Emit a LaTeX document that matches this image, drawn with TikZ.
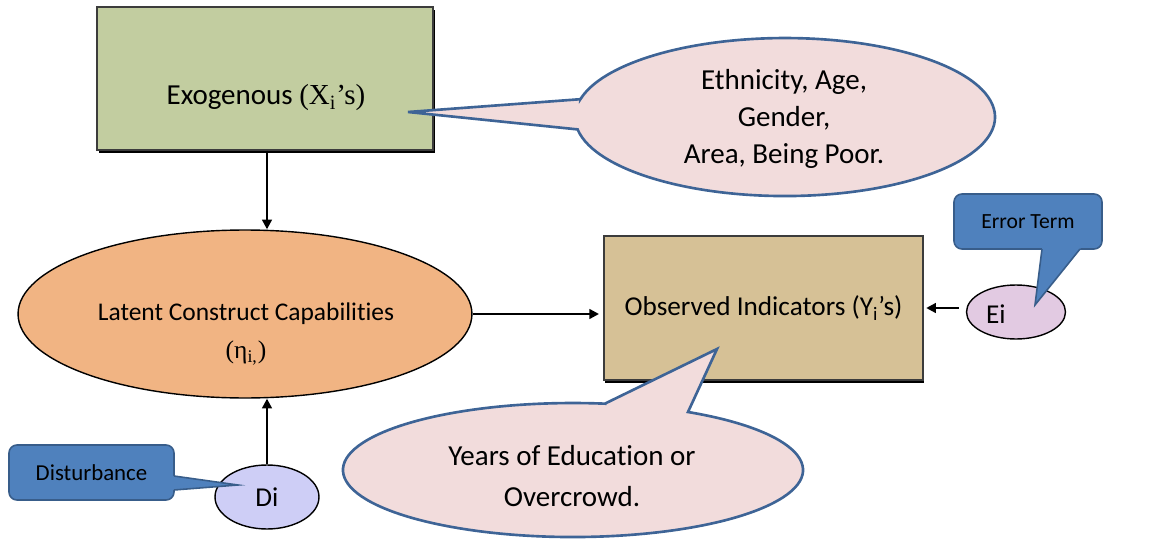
\documentclass[tikz,border=0pt]{standalone}
\usepackage{fontspec}
\setmainfont{Carlito}[Ligatures=NoCommon]
\newfontfamily\serifrm{Liberation Serif}
\usetikzlibrary{arrows.meta,shapes.geometric,shadows}
\definecolor{exofill}{RGB}{194,205,160}
\definecolor{latfill}{RGB}{241,180,131}
\definecolor{obsfill}{RGB}{214,193,150}
\definecolor{pinkfill}{RGB}{242,220,220}
\definecolor{pinkline}{RGB}{62,100,150}
\definecolor{bluefill}{RGB}{79,129,189}
\definecolor{blueline}{RGB}{56,93,138}
\definecolor{difill}{RGB}{206,206,246}
\definecolor{eifill}{RGB}{226,202,226}
\definecolor{boxline}{RGB}{60,60,60}
\begin{document}
\begin{tikzpicture}[x=0.02cm,y=-0.02cm,
  sqbox/.style={rectangle, draw=boxline, line width=0.7pt, inner sep=0pt},
  oval/.style={ellipse, draw=black, line width=0.8pt, inner sep=0pt},
  arr/.style={line width=1.3pt, -{Triangle[length=5.5pt,width=5.5pt]}},
  pinkcall/.style={fill=pinkfill, draw=pinkline, line width=1.5pt, line join=miter},
  bluebox/.style={rectangle, rounded corners=4.5pt, fill=bluefill, draw=blueline, line width=0.9pt, inner sep=0pt},
  ptrline/.style={draw=blueline, line width=0.9pt, line join=miter},
  txt/.style={inner sep=0pt, align=center, text=black}
]
\useasboundingbox (0,0) rectangle (1154,541);

% main boxes and ovals
\node[sqbox, fill=exofill, minimum width=6.72cm, minimum height=2.86cm,
  drop shadow={shadow xshift=1.3pt, shadow yshift=-1.5pt, opacity=1, fill=black}] (exo) at (265,78.5) {};
\node[txt, font=\fontsize{16.5}{20}\selectfont] (exotext) at (266,98) {Exogenous {\serifrm (X\textsubscript{i}’s)}};

\node[oval, fill=latfill, minimum width=9.08cm, minimum height=3.36cm] (lat) at (245,314) {};
\node[txt, font=\fontsize{14.5}{22}\selectfont] (lattext) at (246,334) {Latent Construct Capabilities\\{\serifrm (η\textsubscript{i,})}};

\node[sqbox, fill=obsfill, minimum width=6.38cm, minimum height=2.88cm,
  drop shadow={shadow xshift=0.4pt, shadow yshift=-1.5pt, opacity=1, fill=black},
  font=\fontsize{15.5}{18}\selectfont] (obs) at (763.5,308) {Observed Indicators (Y\textsubscript{i}’s)};

\node[oval, fill=eifill, minimum width=1.98cm, minimum height=1.08cm, font=\fontsize{15.5}{18}\selectfont,
  text height=13.5pt, text depth=0pt, text width=1.2cm, align=left] (ei) at (1016,312) {Ei};
\node[oval, fill=difill, minimum width=2.08cm, minimum height=1.28cm, font=\fontsize{15.5}{18}\selectfont] (di) at (267,497) {Di};

% connectors
\draw[arr] (exo.south -| di.north) -- (lat.north -| di.north);
\draw[arr] (di.north) -- (lat.south -| di.north);
\draw[arr, shorten >=2.5pt] (lat.east) -- (obs.west |- lat.east);
\draw[arr, shorten <=4pt, shorten >=1.5pt] (ei.west |- obs.east) -- (obs.east);

% pink callouts
\path[pinkcall] (580.4,99.2) -- (408,112) -- (577.6,129.4)
  arc[start angle=171, end angle=-167, x radius=210, y radius=79] -- cycle;
\node[txt, font=\fontsize{16.5}{21.3}\selectfont] (bubble1) at (784,119) {Ethnicity, Age,\\Gender,\\Area, Being Poor.};

\path[pinkcall] (605,403.6) -- (717,349) -- (688,412)
  arc[start angle=-60, end angle=278, x radius=230, y radius=67] -- cycle;
\node[txt, font=\fontsize{16.5}{23.3}\selectfont] (bubble2) at (572,476) {Years of Education or\\Overcrowd.};

% blue callouts
\node[bluebox, minimum width=2.96cm, minimum height=1.1cm, font=\fontsize{12.3}{14}\selectfont] (err) at (1028,221.5) {Error Term};
\fill[bluefill] (1042.5,245) -- (1035,305) -- (1083.2,245) -- cycle;
\draw[ptrline] (1042,249) -- (1035,305) -- (1080,249);

\node[bluebox, minimum width=3.3cm, minimum height=1.1cm, font=\fontsize{13}{16}\selectfont] (dist) at (91.5,472.5) {Disturbance};
\fill[bluefill] (170,475.4) -- (238,485) -- (170,490.3) -- cycle;
\draw[ptrline] (174,476) -- (238,485) -- (174,490);
\end{tikzpicture}
\end{document}
